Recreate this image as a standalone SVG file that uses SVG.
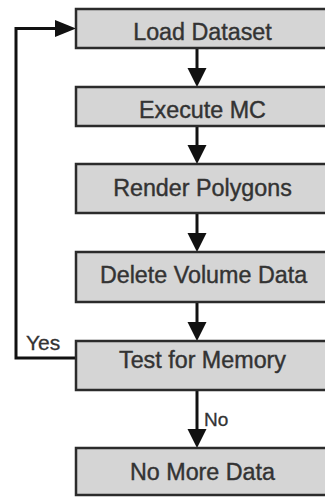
<svg xmlns="http://www.w3.org/2000/svg" width="325" height="498" viewBox="0 0 325 498">
<style>
.box{fill:#d5d5d5;stroke:#2b2b2b;stroke-width:2.5}
.t{font-family:"Liberation Sans",Arial,sans-serif;font-size:23.3px;fill:#333;stroke:#333;stroke-width:0.4;text-anchor:middle}
.lbl{font-family:"Liberation Sans",Arial,sans-serif;fill:#333;stroke:#333;stroke-width:0.3}
.ln{fill:none;stroke:#111;stroke-width:3}
.hd{fill:#111}
</style>
<rect width="325" height="498" fill="#fff"/>
<g id="connectors">
<line class="ln" x1="197" y1="48" x2="197" y2="70"/>
<polygon class="hd" points="187.5,68 206.5,68 197,87"/>
<line class="ln" x1="197" y1="126" x2="197" y2="147"/>
<polygon class="hd" points="187.5,145 206.5,145 197,164"/>
<line class="ln" x1="197" y1="213" x2="197" y2="235"/>
<polygon class="hd" points="187.5,233 206.5,233 197,252"/>
<line class="ln" x1="197" y1="302" x2="197" y2="324"/>
<polygon class="hd" points="187.5,322 206.5,322 197,341"/>
<line class="ln" x1="197" y1="390" x2="197" y2="431"/>
<polygon class="hd" points="187.5,429 206.5,429 197,448"/>
<polyline class="ln" points="76,358 16,358 16,28.5 57,28.5"/>
<polygon class="hd" points="55,20 76,28.5 55,37"/>
<text class="lbl" x="204" y="426" font-size="19">No</text>
<text class="lbl" x="26" y="350" font-size="21">Yes</text>
</g>
<g id="n1"><rect class="box" x="76" y="9" width="260" height="39"/><text class="t" x="202.5" y="40">Load Dataset</text></g>
<g id="n2"><rect class="box" x="76" y="87" width="260" height="39"/><text class="t" x="202.5" y="118">Execute MC</text></g>
<g id="n3"><rect class="box" x="76" y="164" width="260" height="49"/><text class="t" x="202.5" y="196">Render Polygons</text></g>
<g id="n4"><rect class="box" x="76" y="252" width="260" height="50"/><text class="t" x="203.5" y="283">Delete Volume Data</text></g>
<g id="n5"><rect class="box" x="76" y="341" width="260" height="49"/><text class="t" x="202.5" y="368">Test for Memory</text></g>
<g id="n6"><rect class="box" x="76" y="448" width="260" height="47"/><text class="t" x="202.5" y="480">No More Data</text></g>
</svg>
